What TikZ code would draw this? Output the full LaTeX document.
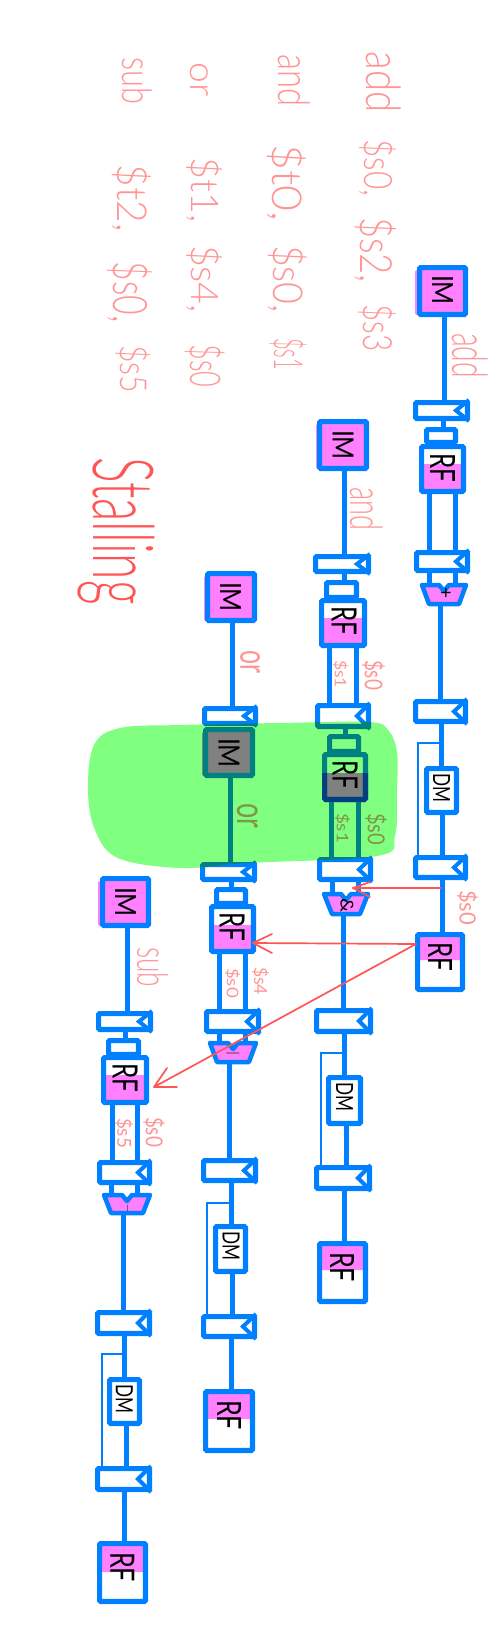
\documentclass[tikz,border=0pt]{standalone}
\usepackage{graphicx}
\usepackage{fontspec}
\newfontfamily\hand{Lato Light}
\newfontfamily\reg{Lato}
\definecolor{bl}{HTML}{0080FF}
\definecolor{pk}{HTML}{FF80FF}
\definecolor{lab}{HTML}{FF9696}
\definecolor{rd}{HTML}{FF5555}
\definecolor{gr}{HTML}{80FF80}
\tikzset{
  boxb/.style={draw=bl,line width=5.2pt,rounded corners=1pt,inner sep=0pt,outer sep=.5\pgflinewidth},
  wire/.style={draw=bl,line width=5pt},
  tapw/.style={draw=bl,line width=1.8pt},
  notchl/.style={draw=bl,line width=4pt,line join=miter},
  txt/.style={rotate=-90,inner sep=0pt,font=\hand},
  redl/.style={draw=rd,line width=1.7pt,line cap=round,line join=round},
  pinkf/.style={fill=pk,rounded corners=2pt}
}
% box from outer corners
\newcommand\bx[5]{\node[boxb,minimum width={(#4-#2-5.2)*1pt},minimum height={(#5-#3-5.2)*1pt}] (#1) at ({(#2+#4)/2},{(#3+#5)/2}) {};}
% latch with its notch
\newcommand\latch[5]{\bx{#1}{#2}{#3}{#4}{#5}\draw[notchl] ([xshift=-1pt]#1.north east) -- ([xshift=-14pt]#1.east) -- ([xshift=-1pt]#1.south east);}
% text fitted to a box: name, cx, cy, length along y, height along x, colour, text
\newcommand\tx[7]{\node[txt,text=#6] (#1) at (#2,#3) {\resizebox*{#4pt}{#5pt}{#7}};}
% ALU: name, cx, y1, y2, top half width, bottom half width
\newcommand\alu[6]{\node[inner sep=0pt,minimum width={2*#6*1pt},minimum height={(#4-#3)*1pt}] (#1) at (#2,{(#3+#4)/2}) {};
  \draw[draw=bl,fill=pk,line width=4.5pt,line join=round] ({#2-#5+2},{#3+2}) -- ({#2-5},{#3+2}) -- (#2,{#3+8}) -- ({#2+5},{#3+2}) -- ({#2+#5-2},{#3+2}) -- ({#2+#6},{#4-2}) -- ({#2-#6},{#4-2}) -- cycle;}
\newcommand\wv[3]{\draw[wire] (#3,0 |- #1.south) -- (#3,0 |- #2.north);}
\begin{document}
\begin{tikzpicture}[x=1pt,y=-1pt]
\useasboundingbox (0,0) rectangle (500,1644);
\fill[white] (0,0) rectangle (500,1644);

% ---------- instruction text
\tx{a1}{384}{82}{61}{35}{lab}{add}
\tx{a2}{378}{168}{57}{37}{lab}{\$s0,}
\tx{a3}{376}{250}{66}{42}{lab}{\$s2,}
\tx{a4}{377}{328}{47}{38}{lab}{\$s3}
\tx{b1}{294}{81}{52}{32}{lab}{and}
\tx{b2}{287}{183}{77}{39}{lab}{\$t0,}
\tx{b3}{288}{279}{68}{39}{lab}{\$s0,}
\tx{b4}{288}{354}{32}{38}{lab}{\$s1}
\tx{c1}{199}{80}{34}{18}{lab}{or}
\tx{c2}{205}{190}{65}{36}{lab}{\$t1,}
\tx{c3}{205}{279}{68}{36}{lab}{\$s4,}
\tx{c4}{205}{366}{43}{40}{lab}{\$s0}
\tx{d1}{137}{81}{47}{30}{lab}{sub}
\tx{d2}{132}{198}{67}{39}{lab}{\$t2,}
\tx{d3}{130}{292}{61}{45}{lab}{\$s0,}
\tx{d4}{133}{369}{48}{35}{lab}{\$s5}
\tx{st}{116}{531}{147}{77}{rd}{Stalling}

% ---------- pipeline add
\fill[pinkf] (415,270) rectangle (465,315);
\bx{im1}{417}{265}{468}{317}
\tx{tim1}{442.5}{290}{30}{21}{black}{\reg IM}
\latch{l11}{413}{400}{470}{421}
\bx{s1}{424}{427}{458}{445}
\fill[pinkf] (420,464) rectangle (465,493);
\bx{rf1}{419}{444}{466}{494}
\tx{trf1}{442.5}{467.5}{29}{25}{black}{\reg RF}
\latch{l12}{414}{550}{470}{573}
\alu{al1}{444}{583}{606}{24}{15}
\tx{op1}{445}{593}{11}{11}{black}{\reg +}
\latch{l13}{413}{699}{468}{724}
\bx{dm1}{424}{766}{459}{815}
\tx{tdm1}{441.5}{787.5}{29}{17}{black}{\reg DM}
\latch{l14}{413}{855}{468}{880}
\fill[pinkf] (417,934) rectangle (464,960);
\bx{rf2}{415}{932}{465}{992}
\tx{trf2}{440}{957}{29}{24}{black}{\reg RF}
\wv{im1}{l11}{444}
\wv{l11}{s1}{443}
\wv{rf1}{l12}{429}
\wv{rf1}{l12}{455}
\draw[wire] (429,0 |- l12.south) -- (429,585);
\draw[wire] (455,0 |- l12.south) -- (455,585);
\wv{al1}{l13}{440}
\wv{l13}{dm1}{441.5}
\wv{dm1}{l14}{442}
\wv{l14}{rf2}{442}
\coordinate (t1a) at (441,743); \coordinate (t1b) at (418,743);
\draw[tapw] (t1a) -- (t1b) -- (418,0 |- l14.north);
\tx{add}{470}{355.5}{45}{36}{lab}{add}
\tx{s01}{467.5}{907.5}{35}{21}{lab}{\reg\$s0}

% ---------- pipeline and
\fill[pinkf] (316,424) rectangle (367,469);
\bx{im2}{317}{419}{369}{471}
\tx{tim2}{343}{445}{30}{21}{black}{\reg IM}
\latch{l21}{313}{554}{371}{574}
\bx{s2}{324}{580}{359}{600}
\fill[pinkf] (321,618) rectangle (366,647);
\bx{rf3}{319}{598}{367}{648}
\tx{trf3}{344}{621}{29}{25}{black}{\reg RF}
\latch{l22}{315}{703}{371}{729}
\bx{s3}{327}{734}{361}{754}
\fill[pinkf] (323,773) rectangle (367,801);
\bx{rf4}{322}{752}{368}{802}
\draw[draw={rgb,255:red,0;green,64;blue,255},line width=5.2pt,rounded corners=1pt] (324.6,773) -- (324.6,799.4) -- (365.4,799.4) -- (365.4,773);
\tx{trf4}{345}{775}{29}{25}{black}{\reg RF}
\latch{l23}{317}{857}{373}{882}
\alu{al2}{346}{892}{916}{24}{14}
\tx{op2}{347}{905}{14}{13}{black}{\reg\&}
\latch{l24}{314}{1008}{373}{1034}
\bx{dm2}{326}{1075}{363}{1126}
\tx{tdm2}{344.5}{1097}{29}{17}{black}{\reg DM}
\latch{l25}{314}{1165}{372}{1191}
\fill[pinkf] (319,1243) rectangle (367,1270);
\bx{rf5}{317}{1241}{368}{1304}
\tx{trf5}{342}{1267}{30}{24}{black}{\reg RF}
\wv{im2}{l21}{344}
\wv{l21}{s2}{344}
\wv{rf3}{l22}{329}
\wv{rf3}{l22}{356}
\wv{l22}{s3}{345}
\wv{rf4}{l23}{331}
\wv{rf4}{l23}{358}
\draw[wire] (332,0 |- l23.south) -- (332,894);
\draw[wire] (358,0 |- l23.south) -- (358,894);
\wv{al2}{l24}{343}
\wv{l24}{dm2}{344.5}
\wv{dm2}{l25}{346}
\wv{l25}{rf5}{344}
\coordinate (t2a) at (343,1053); \coordinate (t2b) at (321,1053);
\draw[tapw] (t2a) -- (t2b) -- (321,0 |- l25.north);
\tx{and}{366.5}{508.5}{43}{33}{lab}{and}
\tx{s11}{340.5}{674}{28}{15}{lab}{\reg\$s1}
\tx{s02}{373.5}{675}{30}{23}{lab}{\reg\$s0}
\tx{s12}{342.5}{828}{30}{15}{lab}{\reg\$s1}
\tx{s03}{376}{829}{32}{22}{lab}{\reg\$s0}

% ---------- pipeline or
\fill[pinkf] (204,576) rectangle (255,621);
\bx{im3}{205}{571}{257}{623}
\tx{tim3}{230.5}{597}{30}{21}{black}{\reg IM}
\latch{l31}{202}{706}{258}{726}
\fill[pinkf] (202,732) rectangle (253,776);
\bx{im4}{203}{727}{255}{778}
\tx{tim4}{229}{753}{30}{21}{black}{\reg IM}
\latch{l32}{200}{862}{257}{882}
\bx{s4}{214}{887}{248}{906}
\fill[pinkf] (210,925) rectangle (255,952);
\bx{rf6}{209}{904}{256}{954}
\tx{trf6}{232}{927}{29}{25}{black}{\reg RF}
\latch{l33}{204}{1009}{261}{1034}
\alu{al3}{233}{1041}{1064}{25}{16}
\tx{op3}{233}{1053}{2}{13}{black}{\reg |}
\latch{l34}{201}{1158}{258}{1183}
\bx{dm3}{213}{1224}{248}{1274}
\tx{tdm3}{231}{1246}{29}{17}{black}{\reg DM}
\latch{l35}{201}{1314}{257}{1339}
\fill[pinkf] (205,1391) rectangle (254,1419);
\bx{rf7}{203}{1389}{255}{1453}
\tx{trf7}{229}{1415}{30}{24}{black}{\reg RF}
\wv{im3}{l31}{232}
\wv{im4}{l32}{230}
\wv{l32}{s4}{231}
\wv{rf6}{l33}{219}
\wv{rf6}{l33}{245}
\draw[wire] (219,0 |- l33.south) -- (219,1043);
\draw[wire] (245,0 |- l33.south) -- (245,1043);
\wv{al3}{l34}{229.5}
\wv{l34}{dm3}{231}
\wv{dm3}{l35}{232}
\wv{l35}{rf7}{231}
\coordinate (t3a) at (230,1203); \coordinate (t3b) at (207,1203);
\draw[tapw] (t3a) -- (t3b) -- (207,0 |- l35.north);
\tx{or1}{250}{661.5}{23}{20}{lab}{\reg or}
\tx{or2}{247.5}{815.5}{25}{21}{lab}{\reg or}
\tx{s04}{232.5}{983}{30}{15}{lab}{\reg\$s0}
\tx{s41}{260.5}{981}{28}{17}{lab}{\reg\$s4}

% ---------- pipeline sub
\fill[pinkf] (98,881) rectangle (149,926);
\bx{im5}{100}{876}{151}{928}
\tx{tim5}{125.5}{902}{30}{21}{black}{\reg IM}
\latch{l41}{96}{1011}{153}{1032}
\bx{s5}{106}{1038}{141}{1057}
\fill[pinkf] (103,1075) rectangle (148,1103);
\bx{rf8}{101}{1055}{149}{1105}
\tx{trf8}{125}{1078}{29}{25}{black}{\reg RF}
\latch{l42}{97}{1160}{152}{1185}
\alu{al4}{127}{1193}{1215}{25}{16}
\tx{op4}{127}{1208}{10}{2}{black}{\reg -}
\latch{l43}{95}{1310}{152}{1336}
\bx{dm4}{107}{1377}{142}{1426}
\tx{tdm4}{124.5}{1399}{29}{17}{black}{\reg DM}
\latch{l44}{95}{1466}{152}{1492}
\fill[pinkf] (99,1543) rectangle (147,1572);
\bx{rf9}{97}{1541}{148}{1604}
\tx{trf9}{122.5}{1567}{30}{24}{black}{\reg RF}
\wv{im5}{l41}{127}
\wv{l41}{s5}{125}
\wv{rf8}{l42}{112}
\wv{rf8}{l42}{137}
\draw[wire] (111,0 |- l42.south) -- (111,1195);
\draw[wire] (137,0 |- l42.south) -- (137,1195);
\wv{al4}{l43}{123}
\wv{l43}{dm4}{124}
\wv{dm4}{l44}{126}
\wv{l44}{rf9}{124}
\coordinate (t4a) at (123,1354); \coordinate (t4b) at (102,1354);
\draw[tapw] (t4a) -- (t4b) -- (102,0 |- l44.north);
\tx{sub}{152.5}{967}{40}{31}{lab}{sub}
\tx{s51}{124}{1133}{30}{18}{lab}{\reg\$s5}
\tx{s05}{154}{1132}{30}{22}{lab}{\reg\$s0}

% ---------- stall highlight
\fill[gr,blend mode=multiply] plot[smooth cycle,tension=.6] coordinates {(120,728) (180,725) (280,723) (368,722) (388,730) (397,752) (397,790) (395,836) (377,856) (247,863) (180,868) (118,858) (95,830) (88,790) (94,745)};

% ---------- forwarding arrows
\coordinate (fa) at (441,888); \coordinate (fb) at (353,888);
\coordinate (ga) at (416,944); \coordinate (gb) at (253,943);
\coordinate (hb) at (154,1087);
\draw[redl] (fa) -- (fb);
\draw[redl] (370,882) -- (fb) -- (370,897);
\draw[redl] (ga) -- (gb);
\draw[redl] (272,934) -- (gb) -- (272,953);
\draw[redl] (ga) -- (hb);
\draw[redl] (167,1068) -- (hb) -- (177,1087);
\end{tikzpicture}
\end{document}
